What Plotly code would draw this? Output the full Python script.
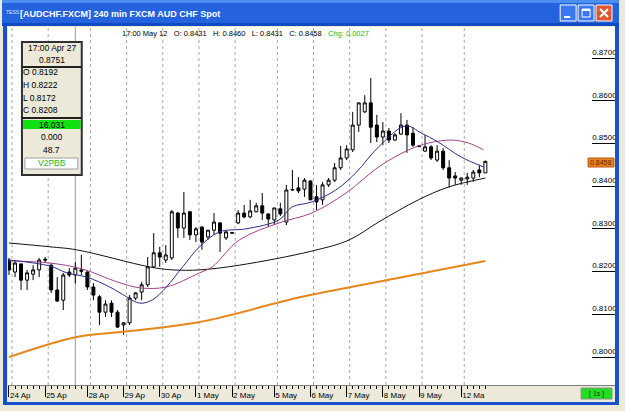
import plotly.graph_objects as go

# ---------------- data ----------------
opens = [0.8227, 0.8199, 0.8218, 0.8180, 0.8194, 0.8204, 0.8229, 0.8215, 0.8157, 0.8133,
         0.8199, 0.8192, 0.8204, 0.8199, 0.8164, 0.8141, 0.8105, 0.8126, 0.8105, 0.8075,
         0.8080, 0.8138, 0.8152, 0.8169, 0.8211, 0.8244, 0.8227, 0.8232, 0.8337, 0.8302,
         0.8340, 0.8286, 0.8304, 0.8281, 0.8297, 0.8314, 0.8279, 0.8290, 0.8314, 0.8337,
         0.8328, 0.8340, 0.8354, 0.8335, 0.8321, 0.8347, 0.8316, 0.8391, 0.8396, 0.8393,
         0.8412, 0.8375, 0.8368, 0.8403, 0.8414, 0.8443, 0.8466, 0.8485, 0.8543, 0.8574,
         0.8595, 0.8543, 0.8515, 0.8529, 0.8508, 0.8522, 0.8543, 0.8524, 0.8494, 0.8482,
         0.8492, 0.8461, 0.8482, 0.8443, 0.8424, 0.8414, 0.8417, 0.8419, 0.8438, 0.8431]
highs = [0.8232, 0.8227, 0.8219, 0.8204, 0.8215, 0.8232, 0.8234, 0.8220, 0.8187, 0.8197,
         0.8208, 0.8222, 0.8239, 0.8200, 0.8173, 0.8145, 0.8133, 0.8133, 0.8110, 0.8082,
         0.8145, 0.8152, 0.8176, 0.8234, 0.8290, 0.8258, 0.8262, 0.8344, 0.8340, 0.8386,
         0.8342, 0.8304, 0.8307, 0.8297, 0.8337, 0.8316, 0.8297, 0.8293, 0.8344, 0.8356,
         0.8368, 0.8361, 0.8384, 0.8336, 0.8349, 0.8361, 0.8403, 0.8438, 0.8421, 0.8419,
         0.8414, 0.8403, 0.8410, 0.8419, 0.8454, 0.8494, 0.8496, 0.8574, 0.8595, 0.8613,
         0.8653, 0.8567, 0.8550, 0.8536, 0.8524, 0.8571, 0.8555, 0.8538, 0.8496, 0.8520,
         0.8496, 0.8496, 0.8489, 0.8461, 0.8433, 0.8421, 0.8431, 0.8438, 0.8450, 0.8460]
lows = [0.8192, 0.8187, 0.8157, 0.8157, 0.8180, 0.8187, 0.8222, 0.8150, 0.8129, 0.8110,
        0.8187, 0.8172, 0.8192, 0.8157, 0.8133, 0.8075, 0.8094, 0.8094, 0.8068, 0.8052,
        0.8075, 0.8133, 0.8133, 0.8164, 0.8208, 0.8211, 0.8220, 0.8227, 0.8279, 0.8279,
        0.8274, 0.8269, 0.8251, 0.8274, 0.8286, 0.8246, 0.8274, 0.8288, 0.8311, 0.8325,
        0.8325, 0.8339, 0.8321, 0.8304, 0.8309, 0.8330, 0.8309, 0.8389, 0.8384, 0.8375,
        0.8368, 0.8344, 0.8356, 0.8398, 0.8410, 0.8438, 0.8461, 0.8480, 0.8527, 0.8571,
        0.8501, 0.8503, 0.8496, 0.8501, 0.8506, 0.8520, 0.8478, 0.8492, 0.8491, 0.8480,
        0.8461, 0.8457, 0.8438, 0.8396, 0.8403, 0.8403, 0.8403, 0.8410, 0.8421, 0.8431]
closes = [0.8204, 0.8220, 0.8180, 0.8197, 0.8204, 0.8227, 0.8227, 0.8157, 0.8131, 0.8192,
          0.8192, 0.8208, 0.8201, 0.8164, 0.8145, 0.8105, 0.8124, 0.8105, 0.8070, 0.8080,
          0.8138, 0.8150, 0.8169, 0.8211, 0.8244, 0.8234, 0.8239, 0.8340, 0.8302, 0.8337,
          0.8286, 0.8300, 0.8269, 0.8297, 0.8316, 0.8290, 0.8293, 0.8291, 0.8337, 0.8328,
          0.8342, 0.8354, 0.8337, 0.8323, 0.8349, 0.8335, 0.8391, 0.8392, 0.8389, 0.8414,
          0.8368, 0.8363, 0.8403, 0.8414, 0.8443, 0.8466, 0.8487, 0.8543, 0.8595, 0.8595,
          0.8538, 0.8515, 0.8529, 0.8508, 0.8520, 0.8543, 0.8520, 0.8496, 0.8493, 0.8492,
          0.8466, 0.8482, 0.8443, 0.8419, 0.8419, 0.8419, 0.8421, 0.8433, 0.8431, 0.8458]
bar_idx = list(range(len(opens)))

tick_idx = [0, 6, 13, 19, 25, 31, 37, 44, 50, 56, 62, 68, 75]
tick_text = ["24 Ap", "25 Ap", "28 Ap", "29 Ap", "30 Ap", "1 May", "2 May",
             "5 May", "6 May", "7 May", "8 May", "9 May", "12 Ma"]
cursor_idx = 11

y_ticks = [0.80, 0.81, 0.82, 0.83, 0.84, 0.85, 0.86, 0.87]

ma_fast_x = [0, 6.8, 9.6, 12.9, 16.7, 19.5, 21.7, 23.8, 26.1, 28.8, 31.6, 34.9, 39.3,
             44.8, 46.9, 50.2, 54.2, 57.5, 61.3, 65.8, 68.4, 71.2, 75, 78.7]
ma_fast_y = [0.8227, 0.8213, 0.8197, 0.8187, 0.8164, 0.8141, 0.8126, 0.8134, 0.8164,
             0.8211, 0.8258, 0.8293, 0.8300, 0.8321, 0.8351, 0.8363, 0.8391, 0.8431,
             0.8492, 0.8541, 0.8524, 0.8503, 0.8468, 0.8445]
ma_mid_x = [0, 6.8, 12.2, 17.9, 21.7, 26.1, 31.6, 33.7, 38.2, 44.8, 50.2, 55.9, 61.3,
            66.3, 69.6, 73.4, 76.2, 78.7]
ma_mid_y = [0.8225, 0.8220, 0.8206, 0.8176, 0.8162, 0.8164, 0.8197, 0.8211, 0.8274,
            0.8314, 0.8337, 0.8384, 0.8445, 0.8485, 0.8501, 0.8508, 0.8501, 0.8485]
ma_slow_x = [0, 6.8, 11.2, 23.3, 27.1, 31.6, 38.2, 50.2, 56.4, 61.3, 67.9, 72.9, 79]
ma_slow_y = [0.8267, 0.8258, 0.8251, 0.8211, 0.8204, 0.8204, 0.8215, 0.8248, 0.8274,
             0.8316, 0.8368, 0.8398, 0.8419]
ma_long_x = [0, 11.2, 18.8, 31.6, 48.6, 61.3, 79]
ma_long_y = [0.8000, 0.8047, 0.8059, 0.8082, 0.8141, 0.8176, 0.8225]

# ---------------- geometry helpers (pixel -> paper) ----------------
PL, PR, PT, PB = 8, 617, 27, 385
W, H = 625, 411


def fx(px):
    return (px - PL) / (PR - PL)


def fy(py):
    return (PB - py) / (PB - PT)


FONT = "Liberation Sans, Arial, sans-serif"

fig = go.Figure()

fig.add_trace(go.Candlestick(
    x=bar_idx, open=opens, high=highs, low=lows, close=closes,
    increasing=dict(fillcolor="white", line=dict(color="black", width=1)),
    decreasing=dict(fillcolor="black", line=dict(color="black", width=1)),
    whiskerwidth=0, hoverinfo="skip"))

for xs, ys, col, wd in [(ma_long_x, ma_long_y, "#E8861C", 2),
                        (ma_slow_x, ma_slow_y, "#111111", 1),
                        (ma_mid_x, ma_mid_y, "#A0458A", 1),
                        (ma_fast_x, ma_fast_y, "#2E2E8C", 1)]:
    fig.add_trace(go.Scatter(x=xs, y=ys, mode="lines",
                             line=dict(color=col, width=wd, shape="spline", smoothing=1.0),
                             hoverinfo="skip"))

# dashed day grid lines
for t in tick_idx:
    fig.add_shape(type="line", xref="x", yref="paper", x0=t + 0.5, x1=t + 0.5, y0=0, y1=1,
                  line=dict(color="#A8A8A8", width=1, dash="3px,3px"), layer="below")
# cursor line
fig.add_shape(type="line", xref="x", yref="paper", x0=cursor_idx, x1=cursor_idx, y0=0, y1=1,
              line=dict(color="#9A9A9A", width=1), layer="below")


def rect(x0, y0, x1, y1, fill=None, line=None, lw=1):
    fig.add_shape(type="rect", xref="paper", yref="paper",
                  x0=fx(x0), x1=fx(x1), y0=fy(y1), y1=fy(y0),
                  fillcolor=fill if fill else "rgba(0,0,0,0)",
                  line=dict(color=line if line else "rgba(0,0,0,0)", width=lw if line else 0),
                  layer="above")


def seg(x0, y0, x1, y1, color, lw=1):
    fig.add_shape(type="line", xref="paper", yref="paper",
                  x0=fx(x0), x1=fx(x1), y0=fy(y0), y1=fy(y1),
                  line=dict(color=color, width=lw), layer="above")


def text(x, y, s, size=8, color="black", anchor="center", bold=False, family=FONT):
    fig.add_annotation(xref="paper", yref="paper", x=fx(x), y=fy(y), text=s,
                       showarrow=False, xanchor=anchor, yanchor="middle", borderpad=0,
                       font=dict(family=family, size=size, color=color,
                                 weight="bold" if bold else "normal"))


# window title bar
rect(2, 0, 621, 26, fill="#2462DE")
rect(2, 0, 621, 3, fill="#4A8EF0")
rect(2, 23, 621, 26, fill="#0F4CC4")
text(5, 12, "TESS", size=5, color="#DDE6FF", anchor="left")
text(19, 14, "[AUDCHF.FXCM] 240 min FXCM AUD CHF Spot", size=9, color="white",
     anchor="left", bold=True)
# buttons
rect(562, 5, 578, 21, fill="#3A78F0", line="white")
rect(566, 16, 572, 18, fill="white")
rect(580, 5, 596, 21, fill="#3A78F0", line="white")
rect(584, 9, 592, 17, line="white", lw=1)
rect(584, 9, 592, 11, fill="white")
rect(598, 5, 614, 21, fill="#E0562E", line="white")
seg(602, 9, 610, 17, "white", 2)
seg(610, 9, 602, 17, "white", 2)

# window frame
rect(3, 26, 7, 405, fill="#1B4FD0")
rect(617, 26, 621, 405, fill="#1B4FD0")
rect(3, 402, 621, 405, fill="#1B4FD0")

# header info line
text(246, 33,
     "17:00 May 12\u00a0\u00a0 O: 0.8431\u00a0\u00a0 H: 0.8460\u00a0\u00a0 L: 0.8431\u00a0\u00a0 "
     "C: 0.8458\u00a0\u00a0 <span style='color:#22B822'>Chg: 0.0027</span>",
     size=7.5)

# data window
rect(22, 42, 82, 175, fill="#ECE9D8", line="#303030", lw=2)
seg(22, 67, 82, 67, "#202020", 2)
seg(22, 118, 82, 118, "#202020", 2)
rect(23, 120, 81, 129, fill="#10E010")
rect(25, 158, 78, 169, fill="white", line="#A0A0A0")
text(52, 48, "17:00 Apr 27", size=8.5)
text(52, 60, "0.8751", size=8.5)
text(22, 72, "O 0.8192", size=8.5, anchor="left")
text(22, 85, "H 0.8222", size=8.5, anchor="left")
text(22, 98, "L 0.8172", size=8.5, anchor="left")
text(22, 110, "C 0.8208", size=8.5, anchor="left")
text(52, 125, "16,031", size=8.5)
text(52, 137, "0.000", size=8.5)
text(52, 150, "48.7", size=8.5)
text(52, 163, "V2PBB", size=8.5, color="#22B822")

# price tag
rect(590, 158, 616, 167, fill="#E8821E", line="#B05A10")
text(603, 162.5, "0.8458", size=7, color="#5A2A00")

# status box
rect(583, 388, 614, 399, fill="#22DD22", line="#909090")
text(598, 393.5, "[ 1s ]", size=7, color="#104010")

fig.update_layout(
    width=W, height=H,
    margin=dict(l=PL, r=W - PR, t=PT, b=H - PB, pad=0),
    paper_bgcolor="#ECE9D8", plot_bgcolor="white",
    showlegend=False, font=dict(family=FONT, size=8, color="black"),
    boxgap=0.3,
    xaxis=dict(range=[-0.165, 100.5], tickmode="array", tickvals=tick_idx, ticktext=tick_text,
               ticks="outside", ticklen=11, tickcolor="black", tickwidth=1,
               ticklabelposition="outside right", ticklabelstandoff=2,
               tickfont=dict(size=8, color="black"),
               showgrid=False, zeroline=False, showline=True, linecolor="#808080",
               minor=dict(tickvals=bar_idx, ticks="outside", ticklen=3, tickcolor="black",
                          showgrid=False),
               rangeslider=dict(visible=False), fixedrange=True),
    yaxis=dict(side="right", range=[0.79345, 0.87726], tickmode="array", tickvals=y_ticks,
               tickformat=".4f", ticks="inside", ticklen=23, tickcolor="black", tickwidth=1,
               ticklabelposition="inside", ticklabelshift=-6, ticklabelstandoff=-26,
               tickfont=dict(size=8, color="black"),
               showgrid=False, zeroline=False, showline=False, fixedrange=True),
)

fig.write_html("out.html")
